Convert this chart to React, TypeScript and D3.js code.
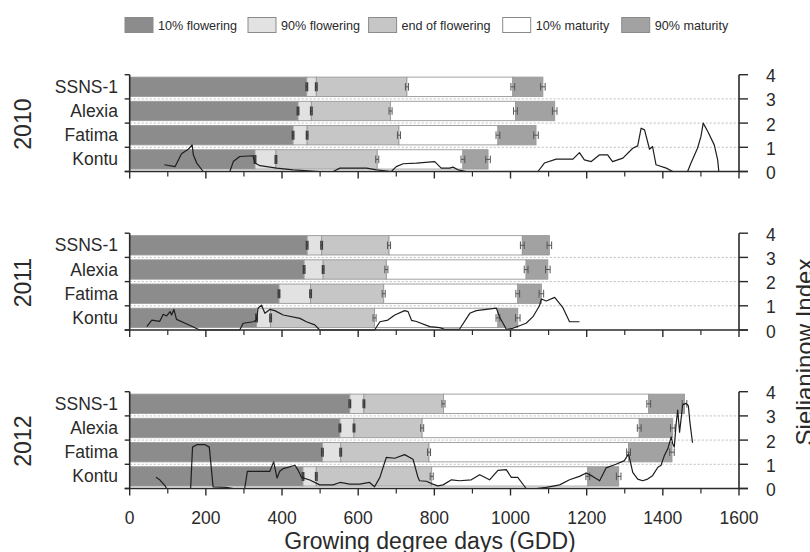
import React from "react";
import * as d3 from "d3";

// Phenological stages (stack order) and their fills
const stages = ["10% flowering", "90% flowering", "end of flowering", "10% maturity", "90% maturity"];
const stageFills = ["#8c8c8c", "#e2e2e2", "#c6c6c6", "#ffffff", "#a2a2a2"];

const cultivars = ["SSNS-1", "Alexia", "Fatima", "Kontu"];
const years = ["2010", "2011", "2012"];

// GDD at which each stage is reached, per cultivar (rows follow `cultivars`)
const gdd2010 = [
  [465, 490, 728, 1006, 1085],
  [442, 477, 685, 1013, 1116],
  [429, 466, 707, 967, 1067],
  [329, 384, 650, 875, 941],
];
const gdd2011 = [
  [466, 504, 681, 1031, 1102],
  [458, 508, 674, 1041, 1098],
  [392, 475, 667, 1019, 1081],
  [333, 370, 643, 967, 1019],
];
const gdd2012 = [
  [578, 615, 824, 1363, 1457],
  [552, 589, 768, 1338, 1426],
  [506, 554, 786, 1310, 1424],
  [455, 490, 793, 1203, 1284],
];

// Half-width of the error bar at each stage boundary (GDD)
const stageErr = [2, 2, 4, 5, 6];

// Sielianinow hydrothermal index over the season: [GDD, index]
const index2010: [number, number][] = [
  [91, 0.28], [119, 0.2], [136, 0.73], [145, 0.83], [154, 0.92], [164, 1.1], [167, 0.69], [176, 0.35],
  [193, 0], [263, 0], [272, 0.41], [289, 0.62], [324, 0.65], [329, 0.35], [342, 0.24], [386, 0.14],
  [429, 0.07], [499, 0], [534, 0], [552, 0.14], [622, 0.14], [648, 0.07], [687, 0], [700, 0.2],
  [718, 0.32], [753, 0.35], [801, 0.41], [818, 0.14], [840, 0.14], [849, 0.18], [862, 0.07], [884, 0],
  [971, 0], [1072, 0], [1089, 0.35], [1120, 0.51], [1164, 0.51], [1181, 0.78], [1194, 0.48],
  [1212, 0.41], [1234, 0.69], [1255, 0.69], [1268, 0.41], [1295, 0.55], [1321, 0.96], [1334, 1.06],
  [1343, 1.79], [1352, 1.72], [1365, 0.92], [1373, 1.03], [1378, 0.62], [1382, 0.28], [1409, 0.14],
  [1426, 0], [1465, 0], [1474, 0.35], [1491, 0.96], [1500, 1.44], [1506, 2.0], [1518, 1.65],
  [1535, 1.1], [1544, 0.48], [1547, 0],
];
const index2011: [number, number][] = [
  [45, 0.14], [58, 0.41], [79, 0.36], [88, 0.65], [97, 0.58], [106, 0.76], [110, 0.62], [116, 0.85],
  [123, 0.44], [150, 0.25], [184, 0], [289, 0], [298, 0.28], [324, 0.34], [333, 0.41], [337, 0.9],
  [346, 1.03], [355, 0.69], [368, 0.85], [381, 0.8], [403, 0.62], [447, 0.48], [464, 0.34],
  [486, 0.21], [499, 0], [643, 0], [657, 0.34], [678, 0.41], [696, 0.62], [722, 0.8], [731, 0.76],
  [740, 0.4], [753, 0.35], [788, 0.14], [814, 0.1], [827, 0.03], [866, 0.03], [893, 0.69],
  [910, 0.8], [963, 0.9], [971, 0.55], [989, 0.03], [1006, 0.07], [1041, 0.28], [1059, 0.55],
  [1076, 1.0], [1081, 1.28], [1094, 1.2], [1116, 1.35], [1137, 0.94], [1155, 0.34], [1181, 0.34],
];
const index2012: [number, number][] = [
  [69, 0.46], [79, 0.36], [93, 0.11], [97, 0], [160, 0], [165, 1.71], [176, 1.81], [198, 1.81],
  [209, 1.71], [219, 0.07], [254, 0.05], [272, 0], [302, 0], [309, 0.71], [368, 0.71], [378, 1.1],
  [387, 0.43], [394, 0.71], [403, 0.82], [413, 0.86], [434, 0.96], [442, 0.76], [451, 0.46],
  [473, 0.35], [499, 0.15], [534, 0.15], [552, 0.25], [578, 0.18], [604, 0.18], [630, 0.25],
  [643, 0.07], [657, 0.46], [674, 1.29], [696, 1.25], [722, 1.4], [744, 1.21], [757, 0.46],
  [761, 0.32], [779, 0.3], [796, 0.18], [809, 0.11], [823, 0.15], [845, 0.36], [866, 0.32],
  [897, 0.36], [919, 0.57], [945, 0.36], [967, 0.75], [989, 0.78], [1002, 0.46], [1019, 0.46],
  [1041, 0], [1068, 0], [1094, 0.05], [1129, 0.15], [1155, 0.36], [1181, 0.5], [1199, 0.64],
  [1216, 0.5], [1234, 0.32], [1251, 0.85], [1277, 1.0], [1299, 1.15], [1310, 1.43], [1321, 0.67],
  [1334, 0.39], [1347, 0.32], [1360, 0.39], [1373, 0.53], [1387, 0.88], [1395, 0.95], [1404, 1.36],
  [1413, 1.64], [1422, 2.13], [1426, 1.85], [1430, 1.71], [1435, 2.68], [1439, 3.24], [1444, 2.33],
  [1448, 2.89], [1452, 3.45], [1461, 3.52], [1467, 3.42], [1471, 2.75], [1476, 2.13], [1478, 1.89],
];

const xTicks = [0, 200, 400, 600, 800, 1000, 1200, 1400, 1600];
const indexTicks = [0, 1, 2, 3, 4];

const panelData = [
  { year: years[0], gdd: gdd2010, index: index2010 },
  { year: years[1], gdd: gdd2011, index: index2011 },
  { year: years[2], gdd: gdd2012, index: index2012 },
];

const W = 810;
const H = 552;
const FONT = "'Liberation Sans', Arial, sans-serif";
const INK = "#2a2a2a";

const x = d3.scaleLinear().domain([0, 1600]).range([129.7, 739]);
const panelTop = d3.scaleBand<string>().domain(years).range([74.7, 74.7 + 3 * 158.5]);
const PANEL_H = 96.8;

function Panel({ year, gdd, index, last }: { year: string; gdd: number[][]; index: [number, number][]; last: boolean }) {
  const top = panelTop(year)!;
  const bottom = top + PANEL_H;
  const yIdx = d3.scaleLinear().domain([0, 4]).range([bottom, top]);
  const band = d3.scaleBand<string>().domain(cultivars).range([top, bottom]).paddingInner(0.2).paddingOuter(0.1);
  const step = band.step();
  const line = d3.line<[number, number]>().x((d) => x(d[0])).y((d) => yIdx(d[1]));
  const minorTicks = d3.range(100, 1600, 200);
  const x0 = x(0);
  const x1 = x(1600);

  return (
    <g>
      {/* dotted separators at index levels 1..3 */}
      {[1, 2, 3].map((v) => (
        <line key={"g" + v} x1={x0} x2={x1} y1={yIdx(v)} y2={yIdx(v)} stroke="#bdbdbd" strokeWidth={1} strokeDasharray="2,2" />
      ))}

      {/* stacked phenology bars */}
      {cultivars.map((c, ci) => {
        const row = gdd[ci];
        const by = band(c)!;
        const bh = band.bandwidth();
        const cy = by + bh / 2;
        return (
          <g key={c}>
            {row.map((v, si) => {
              const start = si === 0 ? 0 : row[si - 1];
              return (
                <rect key={si} x={x(start)} y={by} width={x(v) - x(start)} height={bh}
                  fill={stageFills[si]} stroke="#999" strokeWidth={0.9} />
              );
            })}
            {row.map((v, si) => {
              const e = stageErr[si];
              const xa = x(v - e);
              const xb = x(v + e);
              const flowering = si < 2;
              const cap = flowering ? 4.5 : 3.8;
              return (
                <g key={"e" + si} stroke={flowering ? "#3c3c3c" : "#555"} strokeWidth={flowering ? 1.4 : 1}>
                  <line x1={xa} x2={xb} y1={cy} y2={cy} />
                  <line x1={xa} x2={xa} y1={cy - cap} y2={cy + cap} />
                  <line x1={xb} x2={xb} y1={cy - cap} y2={cy + cap} />
                </g>
              );
            })}
          </g>
        );
      })}

      {/* Sielianinow index trace */}
      <path d={line(index) || ""} fill="none" stroke="#1e1e1e" strokeWidth={1.2} strokeLinejoin="round" />

      {/* left category axis */}
      <line x1={x0} x2={x0} y1={top} y2={bottom} stroke={INK} strokeWidth={1.6} />
      {d3.range(5).map((i) => (
        <line key={"lt" + i} x1={x0 - 5} x2={x0} y1={top + i * step} y2={top + i * step} stroke={INK} strokeWidth={1.4} />
      ))}
      {cultivars.map((c) => (
        <text key={"l" + c} x={118} y={band(c)! + band.bandwidth() / 2} textAnchor="end" dominantBaseline="central"
          fontFamily={FONT} fontSize={17.5} fill={INK}>
          {c}
        </text>
      ))}
      <text transform={`translate(${31},${(top + bottom) / 2 + 1}) rotate(-90)`} textAnchor="middle"
        fontFamily={FONT} fontSize={23} fill={INK}>
        {year}
      </text>

      {/* bottom GDD axis */}
      <line x1={x0 - 5} x2={x1 + 9} y1={bottom} y2={bottom} stroke={INK} strokeWidth={1.6} />
      {xTicks.map((t) => (
        <line key={"xt" + t} x1={x(t)} x2={x(t)} y1={bottom} y2={bottom + 7} stroke={INK} strokeWidth={1.4} />
      ))}
      {minorTicks.map((t) => (
        <line key={"xm" + t} x1={x(t)} x2={x(t)} y1={bottom} y2={bottom + 5} stroke={INK} strokeWidth={1.2} />
      ))}
      {last &&
        xTicks.map((t) => (
          <text key={"xl" + t} x={x(t)} y={bottom + 35.5} textAnchor="middle" fontFamily={FONT} fontSize={17.5} fill={INK}>
            {t}
          </text>
        ))}

      {/* right index axis */}
      <line x1={x1} x2={x1} y1={yIdx(4)} y2={bottom} stroke={INK} strokeWidth={1.6} />
      {indexTicks.map((t) => (
        <g key={"rt" + t}>
          <line x1={x1} x2={x1 + 9} y1={yIdx(t)} y2={yIdx(t)} stroke={INK} strokeWidth={1.4} />
          <text x={766} y={yIdx(t) + 1.5} dominantBaseline="central" fontFamily={FONT} fontSize={17.5} fill={INK}>
            {t}
          </text>
        </g>
      ))}
    </g>
  );
}

const legendX = [125, 248, 368.6, 502.7, 621.7];

function Legend() {
  return (
    <g>
      {stages.map((s, i) => (
        <g key={s}>
          <rect x={legendX[i]} y={17.5} width={28} height={15} fill={stageFills[i]} stroke="#8a8a8a" strokeWidth={1} />
          <text x={legendX[i] + 33} y={30} fontFamily={FONT} fontSize={12.6} fill={INK}>
            {s}
          </text>
        </g>
      ))}
    </g>
  );
}

export default function App() {
  return (
    <svg width={W} height={H} viewBox={`0 0 ${W} ${H}`} style={{ position: "absolute", left: 0, top: 0, background: "#fff" }}>
      <rect width={W} height={H} fill="#fff" />
      <Legend />
      {panelData.map((p, i) => (
        <Panel key={p.year} year={p.year} gdd={p.gdd} index={p.index} last={i === panelData.length - 1} />
      ))}
      <text x={430} y={548.5} textAnchor="middle" fontFamily={FONT} fontSize={23} fill={INK}>
        Growing degree days (GDD)
      </text>
      <text transform={`translate(${813},${352}) rotate(-90)`} textAnchor="middle" fontFamily={FONT} fontSize={24} fill={INK}>
        Sielianinow Index
      </text>
    </svg>
  );
}
